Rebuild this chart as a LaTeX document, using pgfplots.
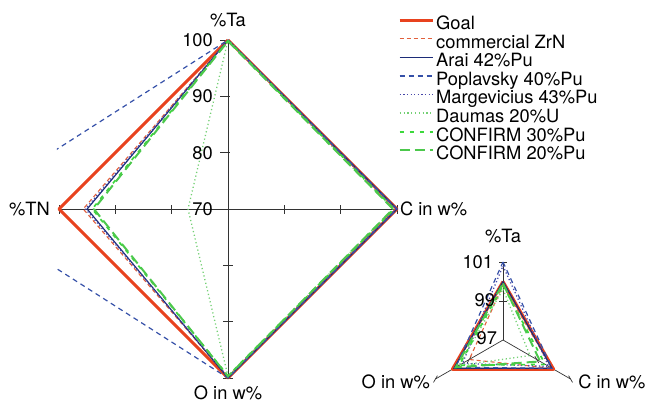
\documentclass[border=0pt]{standalone}
\usepackage{pgfplots}
\pgfplotsset{compat=1.18}
\usepackage{pgfplotstable}
\usepackage{fontspec}
\setmainfont{TeX Gyre Heros}
\newcommand{\chartfont}{\fontsize{18.3}{20}\selectfont}

\definecolor{goalc}{HTML}{E8421E}
\definecolor{zrnc}{HTML}{E2603C}
\definecolor{araic}{HTML}{1C2C78}
\definecolor{popc}{HTML}{3550A8}
\definecolor{margc}{HTML}{4646A8}
\definecolor{daumc}{HTML}{74D074}
\definecolor{cAc}{HTML}{3CD83C}
\definecolor{cBc}{HTML}{4CC84C}
\definecolor{spokec}{HTML}{333333}

% big radar: %Ta (top), C in w% (right), O in w% (bottom), %TN (left); centre = 70
\pgfplotstableread{
a    goal zrn  arai pop  marg daum cA   cB
90   100  100  100  100  100  100  99.9 99.8
0    100  99.8 100  100  99.8 99.3 99.5 99.3
-90  100  99.9 100  100  99.8 99.7 99.6 99.7
180  100  95.7 95.0 117  95.3 77.1 94.1 93.8
90   100  100  100  100  100  100  99.9 99.8
}\bigtab

% small radar: %Ta (top), C in w% (lower right), O in w% (lower left); centre = 97
\pgfplotstableread{
a    goal zrn  arai  pop   marg  daum cA   cB
90   100  99.8 100.0 101.0 100.8 99.6 99.8 99.9
-30  100  99.9 99.9  99.9  99.7  98.6 99.5 99.2
210  100  99.0 99.9  99.8  99.4  99.6 99.6 99.8
90   100  99.8 100.0 101.0 100.8 99.6 99.8 99.9
}\smalltab

\tikzset{
  goal/.style={color=goalc, line width=3pt, line join=round},
  zrn/.style={color=zrnc, line width=1.1pt, dash pattern=on 4pt off 3pt},
  arai/.style={color=araic, line width=1.2pt},
  pop/.style={color=popc, line width=1.2pt, dash pattern=on 5pt off 4pt},
  marg/.style={color=margc, line width=1.3pt, dash pattern=on 1.2pt off 2.4pt},
  daum/.style={color=daumc, line width=1.3pt, dash pattern=on 1.2pt off 2.6pt},
  cA/.style={color=cAc, line width=1.7pt, dash pattern=on 4pt off 6pt},
  cB/.style={color=cBc, line width=2pt, dash pattern=on 10pt off 5pt},
  spk/.style={spokec, line width=0.7pt},
  lbl/.style={inner sep=0pt, font=\chartfont},
}

\newcommand{\radarBig}[1]{\addplot[#1] table[x expr={(\thisrow{#1}-70)*cos(\thisrow{a})}, y expr={(\thisrow{#1}-70)*sin(\thisrow{a})}]{\bigtab};}
\newcommand{\radarSmall}[1]{\addplot[#1, forget plot] table[x expr={(\thisrow{#1}-97)*cos(\thisrow{a})}, y expr={(\thisrow{#1}-97)*sin(\thisrow{a})}]{\smalltab};}

\begin{document}
\begin{tikzpicture}[font=\chartfont]
\path[use as bounding box] (0pt,0pt) rectangle (652pt,405pt);

% ---------- big radar ----------
\begin{axis}[
  at={(56.75pt,24.75pt)}, anchor=south west,
  x=5.633pt, y=5.633pt,
  xmin=-30.4, xmax=30.4, ymin=-30.4, ymax=30.4,
  hide axis, clip mode=individual,
  legend style={at={(0.9964,1.076)}, anchor=north west, draw=none, fill=none,
    font=\chartfont, inner sep=0pt, row sep=-2.9pt, column sep=0pt,
    nodes={inner ysep=0pt, inner xsep=2pt, text height=13pt, text depth=4pt}},
  legend cell align=left,
  legend image code/.code={\path[draw=none, fill=none] (0pt,-4pt) rectangle (33pt,13pt); \draw[#1] (0pt,4.8pt) -- (33pt,4.8pt);},
]
\draw[spk] (axis cs:-30,0) -- (axis cs:30,0);
\draw[spk] (axis cs:0,-30) -- (axis cs:0,30);
\draw[spk] (axis cs:-10,-0.8) -- (axis cs:-10,0.8);
\draw[spk] (axis cs:-20,-0.8) -- (axis cs:-20,0.8);
\draw[spk] (axis cs:-30,-0.8) -- (axis cs:-30,0.8);
\draw[spk] (axis cs:10,-0.8) -- (axis cs:10,0.8);
\draw[spk] (axis cs:20,-0.8) -- (axis cs:20,0.8);
\draw[spk] (axis cs:30,-0.8) -- (axis cs:30,0.8);
\draw[spk] (axis cs:-1.4,10) -- (axis cs:0.4,10);
\draw[spk] (axis cs:-1.4,20) -- (axis cs:0.4,20);
\draw[spk] (axis cs:-1.4,30) -- (axis cs:0.4,30);
\draw[spk] (axis cs:-0.8,-10) -- (axis cs:0.8,-10);
\draw[spk] (axis cs:-0.8,-20) -- (axis cs:0.8,-20);
\draw[spk] (axis cs:-0.8,-30) -- (axis cs:0.8,-30);
\radarBig{goal}
\radarBig{zrn}
\radarBig{arai}
\radarBig{pop}
\radarBig{marg}
\radarBig{daum}
\radarBig{cA}
\radarBig{cB}
\legend{Goal, commercial ZrN, Arai 42\%Pu, Poplavsky 40\%Pu, Margevicius 43\%Pu, Daumas 20\%U, CONFIRM 30\%Pu, CONFIRM 20\%Pu}
\node[lbl, anchor=east] at (axis cs:-2.66,30) {100};
\node[lbl, anchor=east] at (axis cs:-2.66,20) {90};
\node[lbl, anchor=east] at (axis cs:-2.66,10) {80};
\node[lbl, anchor=east] at (axis cs:-2.66,0) {70};
\node[lbl] at (axis cs:0,33.6) {\%Ta};
\node[lbl, anchor=east] at (axis cs:-31.6,0) {\%TN};
\node[lbl, anchor=west] at (axis cs:30.5,0) {C in w\%};
\node[lbl] at (axis cs:0,-32.7) {O in w\%};
\end{axis}

% ---------- small radar ----------
\begin{axis}[
  at={(419.15pt,16.25pt)}, anchor=south west,
  x=19.5pt, y=19.5pt,
  xmin=-4.3, xmax=4.3, ymin=-2.5, ymax=4.3,
  hide axis, clip=false,
]
\draw[spk] (axis cs:0,0) -- (axis cs:0,4);
\draw[spk] (axis cs:0,0) -- (axis cs:3.464,-2);
\draw[spk] (axis cs:0,0) -- (axis cs:-3.464,-2);
\draw[spk] (axis cs:-0.2,2) -- (axis cs:0.2,2);
\draw[spk] (axis cs:-0.2,4) -- (axis cs:0.2,4);
\draw[spk] (axis cs:1.632,-0.827) -- (axis cs:1.832,-1.173);
\draw[spk] (axis cs:3.364,-1.827) -- (axis cs:3.564,-2.173);
\draw[spk] (axis cs:-1.632,-0.827) -- (axis cs:-1.832,-1.173);
\draw[spk] (axis cs:-3.364,-1.827) -- (axis cs:-3.564,-2.173);
\radarSmall{goal}
\radarSmall{zrn}
\radarSmall{arai}
\radarSmall{pop}
\radarSmall{marg}
\radarSmall{daum}
\radarSmall{cA}
\radarSmall{cB}
\node[lbl, anchor=east] at (axis cs:-0.5,4) {101};
\node[lbl, anchor=east] at (axis cs:-0.4,2.05) {99};
\node[lbl, anchor=east] at (axis cs:-0.3,0.1) {97};
\node[lbl] at (axis cs:0,5.35) {\%Ta};
\node[lbl, anchor=east] at (axis cs:-3.74,-2.15) {O in w\%};
\node[lbl, anchor=west] at (axis cs:3.85,-2.15) {C in w\%};
\end{axis}
\end{tikzpicture}
\end{document}
